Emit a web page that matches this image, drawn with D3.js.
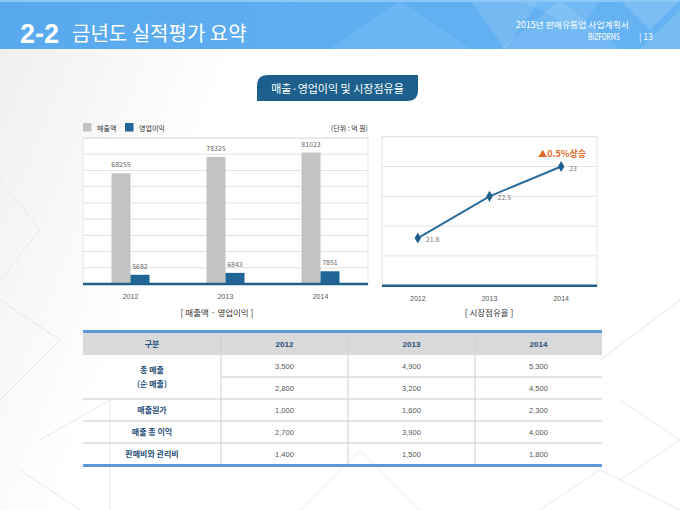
<!DOCTYPE html>
<html><head><meta charset="utf-8">
<script src="https://cdn.jsdelivr.net/npm/d3@7"></script>
<style>
html,body{margin:0;padding:0;background:#fff;}
svg{display:block;font-family:"Noto Sans CJK KR","Noto Sans",sans-serif;}
</style></head>
<body>
<svg id="c" width="680" height="510"></svg>
<script>
// ---------- data ----------
const years = ["2012", "2013", "2014"];
const seriesNames = ["매출액", "영업이익"];
const sales = [68255, 78325, 81023];
const operatingProfit = [5682, 6843, 7851];
const marketShare = [21.8, 22.5, 23];
const barTicks = [0, 10000, 20000, 30000, 40000, 50000, 60000, 70000, 80000, 90000];
const lineTicks = [21, 21.5, 22, 22.5, 23, 23.5];
const tableHeader = ["구분", "2012", "2013", "2014"];
const rowLabels = [["총 매출", "(순 매출)"], ["매출원가"], ["매출 총 이익"], ["판매비와 관리비"]];
const rowSpans = [2, 1, 1, 1];
const tableValues = [
  ["3,500", "4,900", "5,300"],
  ["2,800", "3,200", "4,500"],
  ["1,000", "1,600", "2,300"],
  ["2,700", "3,900", "4,000"],
  ["1,400", "1,500", "1,800"]
];

const svg = d3.select("#c");
const defs = svg.append("defs");

// background
const bg = defs.append("linearGradient").attr("id","bg").attr("x1","0").attr("y1","0").attr("x2","1").attr("y2","0.3");
bg.append("stop").attr("offset","0").attr("stop-color","#eeeeef");
bg.append("stop").attr("offset","0.35").attr("stop-color","#ffffff");
svg.append("rect").attr("width",680).attr("height",510).attr("fill","url(#bg)");

// faint decorative triangles
const deco = svg.append("g").attr("fill","none").attr("stroke","#e3e8ee").attr("stroke-width",1);
[[[0,300],[60,340],[0,400]],[[40,440],[110,400],[110,510]],[[20,470],[80,510]],[[300,510],[360,450],[420,510]],
 [[600,360],[680,300]],[[620,400],[680,440],[620,480]],[[540,510],[600,470],[680,510]],[[0,180],[40,230],[0,280]]]
 .forEach(p=>deco.append("path").attr("d", d3.line()(p)));

// header band
const hg = defs.append("linearGradient").attr("id","hg").attr("x1","0").attr("y1","0").attr("x2","1").attr("y2","0");
hg.append("stop").attr("offset","0").attr("stop-color","#58a9ee");
hg.append("stop").attr("offset","1").attr("stop-color","#66b3f3");
svg.append("rect").attr("width",680).attr("height",49).attr("fill","url(#hg)");
const tri = svg.append("g");
[[[400,0],[470,49],[330,49]],[[470,0],[540,0],[505,49]],[[560,0],[620,49],[500,49]],[[620,0],[680,0],[650,30]],[[640,49],[680,10],[680,49]],[[520,0],[580,30],[600,0]]]
 .forEach((p,i)=>tri.append("path").attr("d", d3.line()(p)+"Z").attr("fill","#ffffff").attr("opacity", [0.08,0.12,0.1,0.15,0.12,0.1][i]));
svg.append("rect").attr("y",0).attr("width",680).attr("height",2).attr("fill","#8cc8f6");

svg.append("text").attr("x",20).attr("y",43).attr("fill","#fff").attr("font-size",27).attr("font-weight","bold")
  .attr("font-family","Liberation Sans, Arial, sans-serif").text("2-2");
svg.append("text").attr("x",72).attr("y",41).attr("fill","#fff").attr("font-size",20).text("금년도 실적평가 요약");
svg.append("text").attr("x",516).attr("y",28).attr("fill","#fff").attr("font-size",8.5)
  .attr("textLength",113).attr("lengthAdjust","spacingAndGlyphs").text("2015년 판매유통업 사업계획서");
svg.append("text").attr("x",588).attr("y",40).attr("fill","#fff").attr("font-size",8.5)
  .attr("textLength",32).attr("lengthAdjust","spacingAndGlyphs").text("BIZFORMS");
svg.append("text").attr("x",639).attr("y",40).attr("fill","#fff").attr("font-size",8.5).text("| 13");

// pill title
const pl=257, pt=75, pw=161, ph=26, r=11;
svg.append("path").attr("d",
  `M${pl+r},${pt} H${pl+pw} V${pt+ph-r} Q${pl+pw},${pt+ph} ${pl+pw-r},${pt+ph} H${pl} V${pt+r} Q${pl},${pt} ${pl+r},${pt} Z`)
  .attr("fill","#1d5f8d");
svg.append("text").attr("x",pl+pw/2).attr("y",pt+17.5).attr("text-anchor","middle").attr("fill","#fff").attr("font-size",11).text("매출·영업이익 및 시장점유율");

// ---------- bar chart ----------
const colors = ["#c3c3c3", "#1f6596"];
const bx = d3.scaleBand().domain(years).range([83, 368]);
const bsub = d3.scaleBand().domain(seriesNames).range([-19, 19]);
const by = d3.scaleLinear().domain([0, 90000]).range([284, 138]);
const gb = svg.append("g");
gb.append("rect").attr("x",83).attr("y",138).attr("width",285).attr("height",146).attr("fill","#fff").attr("stroke","#e4e4e4");
gb.selectAll(".g").data(barTicks).join("line")
  .attr("x1",83).attr("x2",368).attr("y1",d=>by(d)).attr("y2",d=>by(d)).attr("stroke","#e2e2e2");
const barData = [];
years.forEach((y,i)=>{ barData.push({year:y,s:seriesNames[0],v:sales[i]}); barData.push({year:y,s:seriesNames[1],v:operatingProfit[i]}); });
gb.selectAll(".bar").data(barData).join("rect")
  .attr("x",d=>bx(d.year)+bx.bandwidth()/2+bsub(d.s)).attr("width",bsub.bandwidth())
  .attr("y",d=>by(d.v)).attr("height",d=>by(0)-by(d.v)).attr("fill",d=>colors[seriesNames.indexOf(d.s)]);
gb.selectAll(".bl").data(barData).join("text")
  .attr("x",d=>bx(d.year)+bx.bandwidth()/2+bsub(d.s)+bsub.bandwidth()/2).attr("y",d=>by(d.v)-6)
  .attr("text-anchor","middle").attr("font-size",7).attr("fill","#666").text(d=>d.v);
gb.append("line").attr("x1",83).attr("x2",368).attr("y1",284).attr("y2",284).attr("stroke","#1f5f8b").attr("stroke-width",2.5);
const bax = gb.append("g").attr("transform","translate(0,284)").call(d3.axisBottom(bx).tickSize(0).tickPadding(10));
bax.select(".domain").remove();
bax.selectAll("text").attr("font-size",7).attr("fill","#555").attr("font-family","Liberation Sans, sans-serif");
// legend
seriesNames.forEach((n,i)=>{
  const lgx = [83,125][i];
  gb.append("rect").attr("x",lgx).attr("y",123).attr("width",8.5).attr("height",8.5).attr("fill",colors[i]);
  gb.append("text").attr("x",lgx+14).attr("y",130.5).attr("font-size",7).attr("fill","#333").text(n);
});
gb.append("text").attr("x",368).attr("y",131).attr("text-anchor","end").attr("font-size",7).attr("fill","#333").text("(단위 : 억 원)");
gb.append("text").attr("x",217).attr("y",315.5).attr("text-anchor","middle").attr("font-size",8.5).attr("fill","#333").text("[ 매출액 · 영업이익 ]");

// ---------- line chart ----------
const lx = d3.scaleBand().domain(years).range([382, 597]);
const ly = d3.scaleLinear().domain([21, 23.5]).range([285.7, 136.7]);
const gl = svg.append("g");
gl.append("rect").attr("x",382).attr("y",136.7).attr("width",215).attr("height",149).attr("fill","#fff").attr("stroke","#e4e4e4");
gl.selectAll(".g").data(lineTicks).join("line")
  .attr("x1",382).attr("x2",597).attr("y1",d=>ly(d)).attr("y2",d=>ly(d)).attr("stroke","#e2e2e2");
gl.append("line").attr("x1",382).attr("x2",597).attr("y1",285.7).attr("y2",285.7).attr("stroke","#1f5f8b").attr("stroke-width",2.5);
const pts = years.map((y,i)=>({year:y,v:marketShare[i]}));
gl.append("path").datum(pts).attr("fill","none").attr("stroke","#2a6c9c").attr("stroke-width",2)
  .attr("d", d3.line().x(d=>lx(d.year)+lx.bandwidth()/2).y(d=>ly(d.v)));
gl.selectAll(".m").data(pts).join("path")
  .attr("transform",d=>`translate(${lx(d.year)+lx.bandwidth()/2},${ly(d.v)})`)
  .attr("d", d3.symbol(d3.symbolDiamond, 36)).attr("fill","#1f5f8b");
gl.selectAll(".ll").data(pts).join("text")
  .attr("x",d=>lx(d.year)+lx.bandwidth()/2+8).attr("y",d=>ly(d.v)+4)
  .attr("font-size",7).attr("fill","#777").text(d=>d.v);
const lax = gl.append("g").attr("transform","translate(0,285.7)").call(d3.axisBottom(lx).tickSize(0).tickPadding(10));
lax.select(".domain").remove();
lax.selectAll("text").attr("font-size",7).attr("fill","#555").attr("font-family","Liberation Sans, sans-serif");
const lastP = pts[pts.length-1];
gl.append("text").attr("x",lx(lastP.year)+lx.bandwidth()/2+1).attr("y",ly(lastP.v)-10)
  .attr("text-anchor","middle").attr("font-size",9).attr("font-weight","bold").attr("fill","#e06a28")
  .text("▲" + (Math.round((marketShare[2]-marketShare[1])*10)/10) + "%상승");
gl.append("text").attr("x",489).attr("y",316).attr("text-anchor","middle").attr("font-size",8.5).attr("fill","#333").text("[ 시장점유율 ]");

// ---------- table ----------
const colX = [83, 221, 348, 475, 602];
const tTop = 333, headH = 22, rowH = 22;
const gt = svg.append("g");
gt.append("rect").attr("x",83).attr("y",tTop).attr("width",519).attr("height",headH).attr("fill","#d9d9d9");
tableHeader.forEach((h,i)=>{
  gt.append("text").attr("x",(colX[i]+colX[i+1])/2).attr("y",tTop+headH/2+3).attr("text-anchor","middle")
    .attr("font-size",8).attr("font-weight","bold").attr("fill","#1f4e79")
    .attr("font-family", i===0 ? "Noto Sans CJK KR" : "Liberation Sans, sans-serif").text(h);
});
const bodyTop = tTop + headH;
// row lines
tableValues.forEach((row,ri)=>{
  if (ri>0) {
    const startX = (ri===1) ? colX[1] : colX[0];
    gt.append("line").attr("x1",startX).attr("x2",602).attr("y1",bodyTop+ri*rowH).attr("y2",bodyTop+ri*rowH).attr("stroke","#c8c8c8");
  }
  row.forEach((v,ci)=>{
    gt.append("text").attr("x",(colX[ci+1]+colX[ci+2])/2).attr("y",bodyTop+ri*rowH+rowH/2+3).attr("text-anchor","middle")
      .attr("font-size",7.5).attr("fill","#555").attr("font-family","Liberation Sans, sans-serif").text(v);
  });
});
// column lines
colX.slice(1,4).forEach(x=>gt.append("line").attr("x1",x).attr("x2",x).attr("y1",tTop).attr("y2",bodyTop+tableValues.length*rowH).attr("stroke","#d0d0d0"));
// row labels
let rIdx = 0;
rowLabels.forEach((lines,i)=>{
  const cy = bodyTop + (rIdx + rowSpans[i]/2)*rowH;
  lines.forEach((t,k)=>{
    gt.append("text").attr("x",(colX[0]+colX[1])/2).attr("y",cy + 3 + (k-(lines.length-1)/2)*14).attr("text-anchor","middle")
      .attr("font-size",8).attr("font-weight","bold").attr("fill","#1f4e79").text(t);
  });
  rIdx += rowSpans[i];
});
// borders
gt.append("rect").attr("x",83).attr("y",tTop-3).attr("width",519).attr("height",3).attr("fill","#5b9bd5");
gt.append("rect").attr("x",83).attr("y",bodyTop+tableValues.length*rowH-1).attr("width",519).attr("height",3).attr("fill","#5b9bd5");
</script>
</body></html>
